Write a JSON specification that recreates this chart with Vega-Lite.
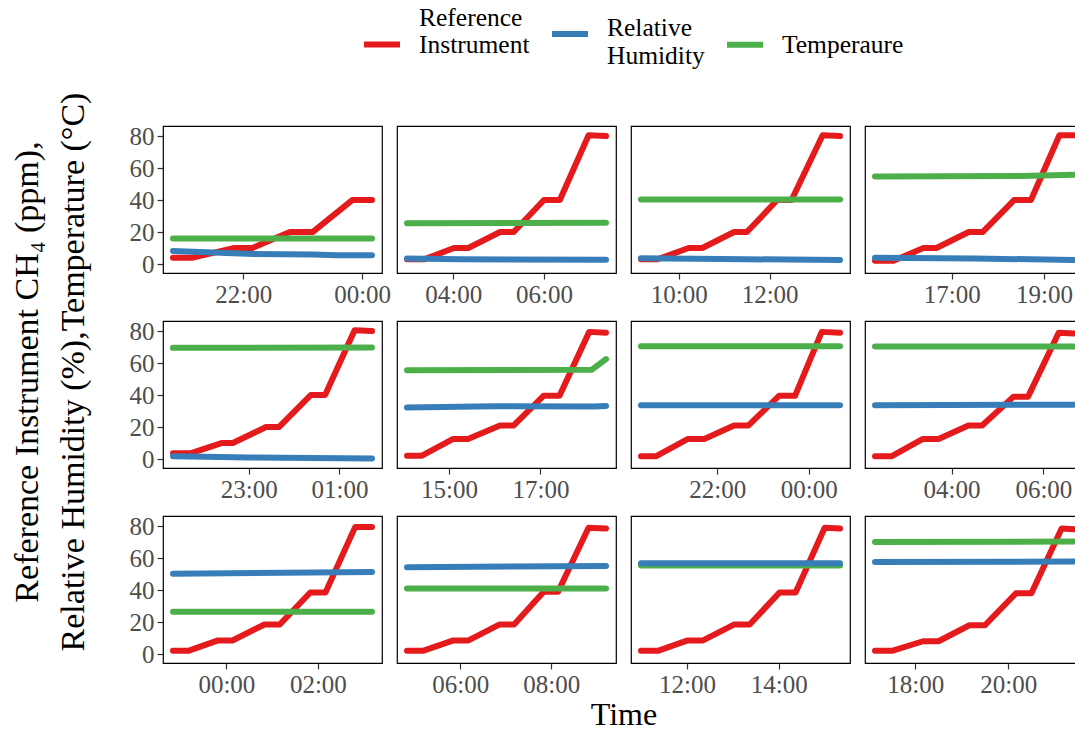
{
  "$schema": "https://vega.github.io/schema/vega-lite/v6.json",
  "padding": {"left": 10, "top": 13, "right": 0, "bottom": 2},
  "title": {
    "text": ["Reference Instrument CH₄ (ppm),", "Relative Humidity (%),Temperature (°C)"],
    "orient": "left", "anchor": "middle", "frame": "bounds",
    "font": "Liberation Serif", "fontSize": 34, "fontWeight": "normal",
    "lineHeight": 46, "offset": 38, "color": "black"
  },
  "data": {"values": [
    {"panel":1,"series":"Reference Instrument","time":"2021-06-01T20:49","value":4},
    {"panel":1,"series":"Reference Instrument","time":"2021-06-01T21:09","value":4},
    {"panel":1,"series":"Reference Instrument","time":"2021-06-01T21:50","value":10},
    {"panel":1,"series":"Reference Instrument","time":"2021-06-01T22:09","value":10},
    {"panel":1,"series":"Reference Instrument","time":"2021-06-01T22:47","value":20},
    {"panel":1,"series":"Reference Instrument","time":"2021-06-01T23:10","value":20},
    {"panel":1,"series":"Reference Instrument","time":"2021-06-01T23:50","value":40},
    {"panel":1,"series":"Reference Instrument","time":"2021-06-02T00:10","value":40},
    {"panel":2,"series":"Reference Instrument","time":"2021-06-02T02:59","value":3},
    {"panel":2,"series":"Reference Instrument","time":"2021-06-02T03:22","value":3},
    {"panel":2,"series":"Reference Instrument","time":"2021-06-02T04:01","value":10},
    {"panel":2,"series":"Reference Instrument","time":"2021-06-02T04:20","value":10},
    {"panel":2,"series":"Reference Instrument","time":"2021-06-02T05:02","value":20},
    {"panel":2,"series":"Reference Instrument","time":"2021-06-02T05:20","value":20},
    {"panel":2,"series":"Reference Instrument","time":"2021-06-02T06:00","value":40},
    {"panel":2,"series":"Reference Instrument","time":"2021-06-02T06:21","value":40},
    {"panel":2,"series":"Reference Instrument","time":"2021-06-02T06:59","value":80.5},
    {"panel":2,"series":"Reference Instrument","time":"2021-06-02T07:22","value":80},
    {"panel":3,"series":"Reference Instrument","time":"2021-06-02T09:10","value":3},
    {"panel":3,"series":"Reference Instrument","time":"2021-06-02T09:32","value":3},
    {"panel":3,"series":"Reference Instrument","time":"2021-06-02T10:13","value":10},
    {"panel":3,"series":"Reference Instrument","time":"2021-06-02T10:31","value":10},
    {"panel":3,"series":"Reference Instrument","time":"2021-06-02T11:13","value":20},
    {"panel":3,"series":"Reference Instrument","time":"2021-06-02T11:30","value":20},
    {"panel":3,"series":"Reference Instrument","time":"2021-06-02T12:10","value":40},
    {"panel":3,"series":"Reference Instrument","time":"2021-06-02T12:29","value":40},
    {"panel":3,"series":"Reference Instrument","time":"2021-06-02T13:10","value":80.5},
    {"panel":3,"series":"Reference Instrument","time":"2021-06-02T13:33","value":80},
    {"panel":4,"series":"Reference Instrument","time":"2021-06-02T15:20","value":2},
    {"panel":4,"series":"Reference Instrument","time":"2021-06-02T15:44","value":2},
    {"panel":4,"series":"Reference Instrument","time":"2021-06-02T16:23","value":10},
    {"panel":4,"series":"Reference Instrument","time":"2021-06-02T16:40","value":10},
    {"panel":4,"series":"Reference Instrument","time":"2021-06-02T17:22","value":20},
    {"panel":4,"series":"Reference Instrument","time":"2021-06-02T17:40","value":20},
    {"panel":4,"series":"Reference Instrument","time":"2021-06-02T18:21","value":40},
    {"panel":4,"series":"Reference Instrument","time":"2021-06-02T18:43","value":40},
    {"panel":4,"series":"Reference Instrument","time":"2021-06-02T19:20","value":80.5},
    {"panel":4,"series":"Reference Instrument","time":"2021-06-02T19:39","value":80.5},
    {"panel":5,"series":"Reference Instrument","time":"2021-06-02T21:20","value":3.6},
    {"panel":5,"series":"Reference Instrument","time":"2021-06-02T21:43","value":3.6},
    {"panel":5,"series":"Reference Instrument","time":"2021-06-02T22:24","value":10},
    {"panel":5,"series":"Reference Instrument","time":"2021-06-02T22:39","value":10},
    {"panel":5,"series":"Reference Instrument","time":"2021-06-02T23:23","value":20},
    {"panel":5,"series":"Reference Instrument","time":"2021-06-02T23:40","value":20},
    {"panel":5,"series":"Reference Instrument","time":"2021-06-03T00:22","value":40},
    {"panel":5,"series":"Reference Instrument","time":"2021-06-03T00:41","value":40},
    {"panel":5,"series":"Reference Instrument","time":"2021-06-03T01:20","value":80.5},
    {"panel":5,"series":"Reference Instrument","time":"2021-06-03T01:43","value":80},
    {"panel":6,"series":"Reference Instrument","time":"2021-06-03T14:05","value":2},
    {"panel":6,"series":"Reference Instrument","time":"2021-06-03T14:24","value":2},
    {"panel":6,"series":"Reference Instrument","time":"2021-06-03T15:05","value":12.5},
    {"panel":6,"series":"Reference Instrument","time":"2021-06-03T15:25","value":12.5},
    {"panel":6,"series":"Reference Instrument","time":"2021-06-03T16:07","value":21},
    {"panel":6,"series":"Reference Instrument","time":"2021-06-03T16:25","value":21},
    {"panel":6,"series":"Reference Instrument","time":"2021-06-03T17:04","value":39.5},
    {"panel":6,"series":"Reference Instrument","time":"2021-06-03T17:25","value":39.5},
    {"panel":6,"series":"Reference Instrument","time":"2021-06-03T18:04","value":79.5},
    {"panel":6,"series":"Reference Instrument","time":"2021-06-03T18:26","value":79},
    {"panel":7,"series":"Reference Instrument","time":"2021-06-03T20:20","value":1.8},
    {"panel":7,"series":"Reference Instrument","time":"2021-06-03T20:40","value":1.8},
    {"panel":7,"series":"Reference Instrument","time":"2021-06-03T21:21","value":12.5},
    {"panel":7,"series":"Reference Instrument","time":"2021-06-03T21:43","value":12.5},
    {"panel":7,"series":"Reference Instrument","time":"2021-06-03T22:22","value":21},
    {"panel":7,"series":"Reference Instrument","time":"2021-06-03T22:41","value":21},
    {"panel":7,"series":"Reference Instrument","time":"2021-06-03T23:21","value":39.5},
    {"panel":7,"series":"Reference Instrument","time":"2021-06-03T23:42","value":39.5},
    {"panel":7,"series":"Reference Instrument","time":"2021-06-04T00:17","value":79.5},
    {"panel":7,"series":"Reference Instrument","time":"2021-06-04T00:41","value":79},
    {"panel":8,"series":"Reference Instrument","time":"2021-06-04T02:20","value":1.8},
    {"panel":8,"series":"Reference Instrument","time":"2021-06-04T02:42","value":1.8},
    {"panel":8,"series":"Reference Instrument","time":"2021-06-04T03:22","value":12.5},
    {"panel":8,"series":"Reference Instrument","time":"2021-06-04T03:43","value":12.5},
    {"panel":8,"series":"Reference Instrument","time":"2021-06-04T04:22","value":21},
    {"panel":8,"series":"Reference Instrument","time":"2021-06-04T04:40","value":21},
    {"panel":8,"series":"Reference Instrument","time":"2021-06-04T05:21","value":39},
    {"panel":8,"series":"Reference Instrument","time":"2021-06-04T05:40","value":39},
    {"panel":8,"series":"Reference Instrument","time":"2021-06-04T06:20","value":79},
    {"panel":8,"series":"Reference Instrument","time":"2021-06-04T06:40","value":78.5},
    {"panel":9,"series":"Reference Instrument","time":"2021-06-04T22:50","value":2},
    {"panel":9,"series":"Reference Instrument","time":"2021-06-04T23:10","value":2},
    {"panel":9,"series":"Reference Instrument","time":"2021-06-04T23:49","value":8.5},
    {"panel":9,"series":"Reference Instrument","time":"2021-06-05T00:08","value":8.5},
    {"panel":9,"series":"Reference Instrument","time":"2021-06-05T00:50","value":18.5},
    {"panel":9,"series":"Reference Instrument","time":"2021-06-05T01:10","value":18.5},
    {"panel":9,"series":"Reference Instrument","time":"2021-06-05T01:50","value":38.5},
    {"panel":9,"series":"Reference Instrument","time":"2021-06-05T02:10","value":38.5},
    {"panel":9,"series":"Reference Instrument","time":"2021-06-05T02:49","value":79.5},
    {"panel":9,"series":"Reference Instrument","time":"2021-06-05T03:11","value":79.5},
    {"panel":10,"series":"Reference Instrument","time":"2021-06-05T04:50","value":2},
    {"panel":10,"series":"Reference Instrument","time":"2021-06-05T05:11","value":2},
    {"panel":10,"series":"Reference Instrument","time":"2021-06-05T05:51","value":8.5},
    {"panel":10,"series":"Reference Instrument","time":"2021-06-05T06:11","value":8.5},
    {"panel":10,"series":"Reference Instrument","time":"2021-06-05T06:52","value":18.5},
    {"panel":10,"series":"Reference Instrument","time":"2021-06-05T07:11","value":18.5},
    {"panel":10,"series":"Reference Instrument","time":"2021-06-05T07:50","value":39},
    {"panel":10,"series":"Reference Instrument","time":"2021-06-05T08:09","value":39},
    {"panel":10,"series":"Reference Instrument","time":"2021-06-05T08:49","value":79},
    {"panel":10,"series":"Reference Instrument","time":"2021-06-05T09:12","value":78.5},
    {"panel":11,"series":"Reference Instrument","time":"2021-06-05T11:00","value":2},
    {"panel":11,"series":"Reference Instrument","time":"2021-06-05T11:22","value":2},
    {"panel":11,"series":"Reference Instrument","time":"2021-06-05T12:01","value":8.5},
    {"panel":11,"series":"Reference Instrument","time":"2021-06-05T12:21","value":8.5},
    {"panel":11,"series":"Reference Instrument","time":"2021-06-05T13:02","value":18.5},
    {"panel":11,"series":"Reference Instrument","time":"2021-06-05T13:22","value":18.5},
    {"panel":11,"series":"Reference Instrument","time":"2021-06-05T14:01","value":38.5},
    {"panel":11,"series":"Reference Instrument","time":"2021-06-05T14:22","value":38.5},
    {"panel":11,"series":"Reference Instrument","time":"2021-06-05T15:00","value":79},
    {"panel":11,"series":"Reference Instrument","time":"2021-06-05T15:20","value":78.5},
    {"panel":12,"series":"Reference Instrument","time":"2021-06-05T17:08","value":2},
    {"panel":12,"series":"Reference Instrument","time":"2021-06-05T17:30","value":2},
    {"panel":12,"series":"Reference Instrument","time":"2021-06-05T18:10","value":8},
    {"panel":12,"series":"Reference Instrument","time":"2021-06-05T18:30","value":8},
    {"panel":12,"series":"Reference Instrument","time":"2021-06-05T19:10","value":18},
    {"panel":12,"series":"Reference Instrument","time":"2021-06-05T19:30","value":18},
    {"panel":12,"series":"Reference Instrument","time":"2021-06-05T20:10","value":38},
    {"panel":12,"series":"Reference Instrument","time":"2021-06-05T20:30","value":38},
    {"panel":12,"series":"Reference Instrument","time":"2021-06-05T21:09","value":78.5},
    {"panel":12,"series":"Reference Instrument","time":"2021-06-05T21:25","value":78},

    {"panel":1,"series":"Temperaure","time":"2021-06-01T20:49","value":16},
    {"panel":1,"series":"Temperaure","time":"2021-06-02T00:10","value":16},
    {"panel":2,"series":"Temperaure","time":"2021-06-02T02:59","value":25.5},
    {"panel":2,"series":"Temperaure","time":"2021-06-02T07:22","value":25.8},
    {"panel":3,"series":"Temperaure","time":"2021-06-02T09:10","value":40.4},
    {"panel":3,"series":"Temperaure","time":"2021-06-02T13:33","value":40.4},
    {"panel":4,"series":"Temperaure","time":"2021-06-02T15:20","value":54.8},
    {"panel":4,"series":"Temperaure","time":"2021-06-02T18:30","value":55},
    {"panel":4,"series":"Temperaure","time":"2021-06-02T19:39","value":55.8},
    {"panel":5,"series":"Temperaure","time":"2021-06-02T21:20","value":69.5},
    {"panel":5,"series":"Temperaure","time":"2021-06-03T01:43","value":69.8},
    {"panel":6,"series":"Temperaure","time":"2021-06-03T14:05","value":55.5},
    {"panel":6,"series":"Temperaure","time":"2021-06-03T18:07","value":55.8},
    {"panel":6,"series":"Temperaure","time":"2021-06-03T18:26","value":62.5},
    {"panel":7,"series":"Temperaure","time":"2021-06-03T20:20","value":70.5},
    {"panel":7,"series":"Temperaure","time":"2021-06-04T00:41","value":70.5},
    {"panel":8,"series":"Temperaure","time":"2021-06-04T02:20","value":70.3},
    {"panel":8,"series":"Temperaure","time":"2021-06-04T06:40","value":70.3},
    {"panel":9,"series":"Temperaure","time":"2021-06-04T22:50","value":26.4},
    {"panel":9,"series":"Temperaure","time":"2021-06-05T03:11","value":26.4},
    {"panel":10,"series":"Temperaure","time":"2021-06-05T04:50","value":41},
    {"panel":10,"series":"Temperaure","time":"2021-06-05T09:12","value":41},
    {"panel":11,"series":"Temperaure","time":"2021-06-05T11:00","value":55.3},
    {"panel":11,"series":"Temperaure","time":"2021-06-05T15:20","value":55.3},
    {"panel":12,"series":"Temperaure","time":"2021-06-05T17:08","value":70},
    {"panel":12,"series":"Temperaure","time":"2021-06-05T21:25","value":70.3},

    {"panel":1,"series":"Relative Humidity","time":"2021-06-01T20:49","value":8.2},
    {"panel":1,"series":"Relative Humidity","time":"2021-06-01T21:30","value":7.2},
    {"panel":1,"series":"Relative Humidity","time":"2021-06-01T22:10","value":6.3},
    {"panel":1,"series":"Relative Humidity","time":"2021-06-01T23:10","value":6},
    {"panel":1,"series":"Relative Humidity","time":"2021-06-01T23:35","value":5.5},
    {"panel":1,"series":"Relative Humidity","time":"2021-06-02T00:10","value":5.5},
    {"panel":2,"series":"Relative Humidity","time":"2021-06-02T02:59","value":3.5},
    {"panel":2,"series":"Relative Humidity","time":"2021-06-02T04:10","value":3},
    {"panel":2,"series":"Relative Humidity","time":"2021-06-02T07:22","value":2.7},
    {"panel":3,"series":"Relative Humidity","time":"2021-06-02T09:10","value":3.6},
    {"panel":3,"series":"Relative Humidity","time":"2021-06-02T11:30","value":3},
    {"panel":3,"series":"Relative Humidity","time":"2021-06-02T13:33","value":2.5},
    {"panel":4,"series":"Relative Humidity","time":"2021-06-02T15:20","value":4},
    {"panel":4,"series":"Relative Humidity","time":"2021-06-02T17:30","value":3.5},
    {"panel":4,"series":"Relative Humidity","time":"2021-06-02T19:39","value":2.5},
    {"panel":5,"series":"Relative Humidity","time":"2021-06-02T21:20","value":1.8},
    {"panel":5,"series":"Relative Humidity","time":"2021-06-02T23:00","value":1},
    {"panel":5,"series":"Relative Humidity","time":"2021-06-03T01:43","value":0.3},
    {"panel":6,"series":"Relative Humidity","time":"2021-06-03T14:05","value":32.3},
    {"panel":6,"series":"Relative Humidity","time":"2021-06-03T16:00","value":33},
    {"panel":6,"series":"Relative Humidity","time":"2021-06-03T18:10","value":32.8},
    {"panel":6,"series":"Relative Humidity","time":"2021-06-03T18:26","value":33.2},
    {"panel":7,"series":"Relative Humidity","time":"2021-06-03T20:20","value":33.6},
    {"panel":7,"series":"Relative Humidity","time":"2021-06-04T00:41","value":33.6},
    {"panel":8,"series":"Relative Humidity","time":"2021-06-04T02:20","value":33.6},
    {"panel":8,"series":"Relative Humidity","time":"2021-06-04T06:40","value":34},
    {"panel":9,"series":"Relative Humidity","time":"2021-06-04T22:50","value":50.2},
    {"panel":9,"series":"Relative Humidity","time":"2021-06-05T03:11","value":51.3},
    {"panel":10,"series":"Relative Humidity","time":"2021-06-05T04:50","value":54.3},
    {"panel":10,"series":"Relative Humidity","time":"2021-06-05T09:12","value":55},
    {"panel":11,"series":"Relative Humidity","time":"2021-06-05T11:00","value":56.8},
    {"panel":11,"series":"Relative Humidity","time":"2021-06-05T15:20","value":56.8},
    {"panel":12,"series":"Relative Humidity","time":"2021-06-05T17:08","value":57.5},
    {"panel":12,"series":"Relative Humidity","time":"2021-06-05T21:25","value":57.8}
  ]},
  "facet": {
    "field": "panel", "type": "ordinal",
    "header": {
      "labels": false, "labelExpr": "''", "labelFontSize": 1, "labelPadding": 0,
      "title": "Time", "titleOrient": "bottom",
      "titleFont": "Liberation Serif", "titleFontSize": 32, "titleFontWeight": "normal",
      "titleColor": "black", "titlePadding": 37
    }
  },
  "columns": 4,
  "bounds": "flush",
  "spacing": {"row": 48, "column": 15},
  "resolve": {"scale": {"x": "independent"}},
  "spec": {
    "width": 219,
    "height": 147,
    "mark": {"type": "line", "strokeWidth": 6, "strokeCap": "round", "strokeJoin": "round"},
    "encoding": {
      "x": {
        "field": "time", "type": "temporal",
        "scale": {"nice": false, "padding": 10},
        "axis": {
          "title": null, "format": "%H:%M",
          "values": [
            {"year":2021,"month":6,"date":1,"hours":22},
            {"year":2021,"month":6,"date":2,"hours":0},
            {"year":2021,"month":6,"date":2,"hours":4},
            {"year":2021,"month":6,"date":2,"hours":6},
            {"year":2021,"month":6,"date":2,"hours":10},
            {"year":2021,"month":6,"date":2,"hours":12},
            {"year":2021,"month":6,"date":2,"hours":17},
            {"year":2021,"month":6,"date":2,"hours":19},
            {"year":2021,"month":6,"date":2,"hours":23},
            {"year":2021,"month":6,"date":3,"hours":1},
            {"year":2021,"month":6,"date":3,"hours":15},
            {"year":2021,"month":6,"date":3,"hours":17},
            {"year":2021,"month":6,"date":3,"hours":22},
            {"year":2021,"month":6,"date":4,"hours":0},
            {"year":2021,"month":6,"date":4,"hours":4},
            {"year":2021,"month":6,"date":4,"hours":6},
            {"year":2021,"month":6,"date":5,"hours":0},
            {"year":2021,"month":6,"date":5,"hours":2},
            {"year":2021,"month":6,"date":5,"hours":6},
            {"year":2021,"month":6,"date":5,"hours":8},
            {"year":2021,"month":6,"date":5,"hours":12},
            {"year":2021,"month":6,"date":5,"hours":14},
            {"year":2021,"month":6,"date":5,"hours":18},
            {"year":2021,"month":6,"date":5,"hours":20}
          ]
        }
      },
      "y": {
        "field": "value", "type": "quantitative",
        "scale": {"domain": [-5.6, 86.3], "nice": false, "zero": false},
        "axis": {"title": null, "values": [0, 20, 40, 60, 80]}
      },
      "color": {
        "field": "series", "type": "nominal",
        "scale": {
          "domain": ["Reference Instrument", "Relative Humidity", "Temperaure"],
          "range": ["#E41A1C", "#377EB8", "#4DAF4A"]
        },
        "legend": {
          "title": null, "orient": "none", "direction": "horizontal", "columns": 3,
          "legendX": 198, "legendY": -113,
          "symbolType": "stroke", "symbolSize": 1296, "symbolStrokeWidth": 6,
          "labelFont": "Liberation Serif", "labelFontSize": 25.5, "labelColor": "black",
          "labelLimit": 400, "labelOffset": 16, "columnPadding": 10,
          "labelExpr": "datum.value == 'Reference Instrument' ? ['Reference', 'Instrument'] : datum.value == 'Relative Humidity' ? ['Relative', 'Humidity'] : datum.value",
          "encode": {
            "labels": {
              "update": {
                "dy": {"signal": "datum.value == 'Reference Instrument' ? -27 : datum.value == 'Relative Humidity' ? -6 : 0"}
              }
            }
          }
        }
      }
    }
  },
  "config": {
    "font": "Liberation Serif",
    "view": {"stroke": "black", "strokeWidth": 1.2},
    "axis": {
      "labelFont": "Liberation Serif", "labelFontSize": 25, "labelColor": "#4D4D4D",
      "tickColor": "#333333", "tickSize": 6, "tickWidth": 1.2,
      "domain": false, "grid": false, "labelPadding": 3
    }
  }
}
